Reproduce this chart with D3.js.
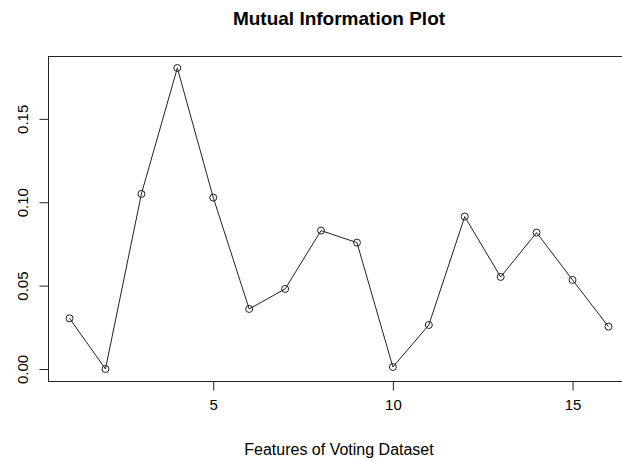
<!DOCTYPE html>
<html>
<head>
<meta charset="utf-8">
<script src="https://cdn.jsdelivr.net/npm/d3@7"></script>
<style>
  body { margin: 0; background: #fff; }
  text { font-family: "Liberation Sans", Arial, sans-serif; fill: #000; }
</style>
</head>
<body>
<script>
// Mutual information per feature
var features = [1, 2, 3, 4, 5, 6, 7, 8, 9, 10, 11, 12, 13, 14, 15, 16];
var mutualInfo = [0.0304, 0.0, 0.105, 0.1805, 0.1028, 0.036, 0.048, 0.083,
                  0.0758, 0.0012, 0.0264, 0.0914, 0.0552, 0.0818, 0.0534, 0.0254];
var xTicks = [5, 10, 15];
var yTicks = [0.00, 0.05, 0.10, 0.15];

var width = 622, height = 462;

// R-style 4% axis padding
var x = d3.scaleLinear().domain([0.4, 16.6]).range([48, 630]);
var y = d3.scaleLinear().domain([-0.0072, 0.1877]).range([381, 56]);

var svg = d3.select("body").append("svg")
    .attr("width", width)
    .attr("height", height);

var data = features.map(function(f, i) { return [f, mutualInfo[i]]; });

var line = d3.line()
    .x(function(d) { return x(d[0]); })
    .y(function(d) { return y(d[1]); });

svg.append("path")
    .attr("d", line(data))
    .attr("fill", "none")
    .attr("stroke", "#222")
    .attr("stroke-width", 1);

svg.selectAll(".dot")
    .data(data)
    .enter().append("circle")
    .attr("class", "dot")
    .attr("r", 3.5)
    .attr("cx", function(d) { return x(d[0]); })
    .attr("cy", function(d) { return y(d[1]); })
    .attr("fill", "none")
    .attr("stroke", "#222")
    .attr("stroke-width", 1);

// plot box
svg.append("rect")
    .attr("x", 48.5)
    .attr("y", 56.5)
    .attr("width", 630 - 48)
    .attr("height", 381 - 56)
    .attr("fill", "none")
    .attr("stroke", "#222")
    .attr("stroke-width", 1);

// x axis
var xAxis = svg.append("g")
    .attr("transform", "translate(0,381.5)")
    .call(d3.axisBottom(x).tickValues(xTicks).tickSize(9).tickPadding(9)
        .tickFormat(d3.format("d")));
xAxis.select(".domain").remove();
xAxis.selectAll("line").attr("stroke", "#222");
xAxis.selectAll("text").style("font-size", "15px").attr("fill", "#000");

// y axis
var yAxis = svg.append("g")
    .attr("transform", "translate(48.5,0)")
    .call(d3.axisLeft(y).tickValues(yTicks).tickSize(9).tickFormat(d3.format(".2f")));
yAxis.select(".domain").remove();
yAxis.selectAll("line").attr("stroke", "#222");
yAxis.selectAll("text")
    .attr("x", null).attr("dy", null)
    .attr("transform", "translate(-21,0) rotate(-90)")
    .attr("text-anchor", "middle")
    .attr("y", 0)
    .style("font-size", "15px")
    .attr("fill", "#000");

// title
svg.append("text")
    .attr("x", 339)
    .attr("y", 25)
    .attr("text-anchor", "middle")
    .style("font-size", "19px")
    .style("font-weight", "bold")
    .text("Mutual Information Plot");

// x label
svg.append("text")
    .attr("x", 339)
    .attr("y", 455)
    .attr("text-anchor", "middle")
    .style("font-size", "16px")
    .text("Features of Voting Dataset");
</script>
</body>
</html>
